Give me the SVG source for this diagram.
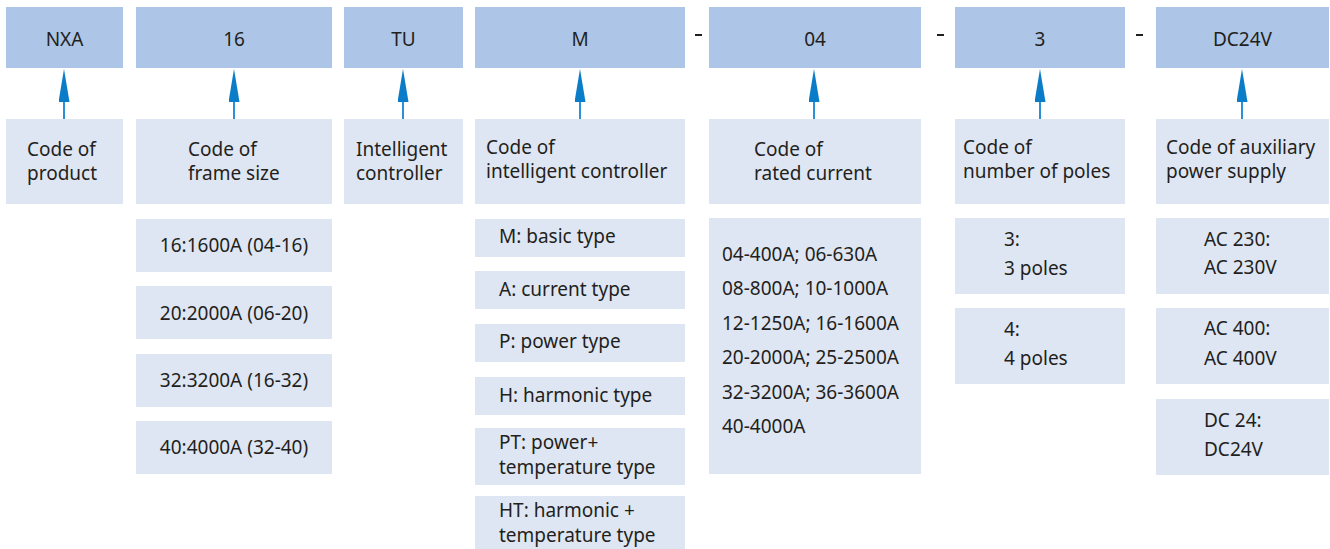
<svg xmlns="http://www.w3.org/2000/svg" width="1330" height="549" viewBox="0 0 1330 549">
<style>
.top{fill:#adc6e7}
.sub{fill:#dfe6f3}
text{font-family:"Noto Sans","Segoe UI","Liberation Sans",sans-serif;font-size:19px;fill:#231f20}
.c{text-anchor:middle}
.conn{stroke:#2a90d8;stroke-width:2;fill:none}
.dash{fill:#231f20}
</style>
<defs>
<marker id="ah" markerUnits="userSpaceOnUse" markerWidth="11" markerHeight="33" viewBox="0 0 11 33" refX="5.5" refY="33" orient="0">
<path d="M0,33 L5.5,0 L11,33 Z" fill="#0a7cc8"/>
</marker>
</defs>
<rect width="1330" height="549" fill="#ffffff"/>

<g id="top-nxa"><rect class="top" x="6" y="7" width="117" height="61"/><text class="c" x="64.5" y="46">NXA</text></g>
<g id="top-16"><rect class="top" x="136" y="7" width="196" height="61"/><text class="c" x="234" y="46">16</text></g>
<g id="top-tu"><rect class="top" x="344" y="7" width="119" height="61"/><text class="c" x="403.5" y="46">TU</text></g>
<g id="top-m"><rect class="top" x="475" y="7" width="210" height="61"/><text class="c" x="580" y="46">M</text></g>
<g id="top-04"><rect class="top" x="709" y="7" width="212" height="61"/><text class="c" x="815" y="46">04</text></g>
<g id="top-3"><rect class="top" x="955" y="7" width="170" height="61"/><text class="c" x="1040" y="46">3</text></g>
<g id="top-dc24v"><rect class="top" x="1156" y="7" width="173" height="61"/><text class="c" x="1242.5" y="46">DC24V</text></g>

<g id="dashes">
<rect class="dash" x="695" y="34" width="7" height="2"/>
<rect class="dash" x="937" y="34" width="7" height="2"/>
<rect class="dash" x="1136" y="34" width="7" height="2"/>
</g>

<g id="connectors">
<line class="conn" x1="64" y1="119" x2="64" y2="102" marker-end="url(#ah)"/>
<line class="conn" x1="234" y1="119" x2="234" y2="102" marker-end="url(#ah)"/>
<line class="conn" x1="403" y1="119" x2="403" y2="102" marker-end="url(#ah)"/>
<line class="conn" x1="580" y1="119" x2="580" y2="102" marker-end="url(#ah)"/>
<line class="conn" x1="814" y1="119" x2="814" y2="102" marker-end="url(#ah)"/>
<line class="conn" x1="1040" y1="119" x2="1040" y2="102" marker-end="url(#ah)"/>
<line class="conn" x1="1242" y1="119" x2="1242" y2="102" marker-end="url(#ah)"/>
</g>

<g id="desc-nxa"><rect class="sub" x="6" y="119" width="117" height="85"/><text x="27" y="156">Code of</text><text x="27" y="180">product</text></g>
<g id="desc-16"><rect class="sub" x="136" y="119" width="196" height="85"/><text x="188" y="156">Code of</text><text x="188" y="180">frame size</text></g>
<g id="desc-tu"><rect class="sub" x="344" y="119" width="119" height="85"/><text x="356" y="156">Intelligent</text><text x="356" y="180">controller</text></g>
<g id="desc-m"><rect class="sub" x="475" y="119" width="210" height="85"/><text x="486" y="154">Code of</text><text x="486" y="178">intelligent controller</text></g>
<g id="desc-04"><rect class="sub" x="709" y="119" width="212" height="85"/><text x="754" y="156">Code of</text><text x="754" y="180">rated current</text></g>
<g id="desc-3"><rect class="sub" x="955" y="119" width="170" height="85"/><text x="963" y="154">Code of</text><text x="963" y="178">number of poles</text></g>
<g id="desc-dc24v"><rect class="sub" x="1156" y="119" width="173" height="85"/><text x="1166" y="154">Code of auxiliary</text><text x="1166" y="178">power supply</text></g>

<g id="frame-16"><rect class="sub" x="136" y="219" width="196" height="53"/><text class="c" x="234" y="252">16:1600A (04-16)</text></g>
<g id="frame-20"><rect class="sub" x="136" y="286" width="196" height="53"/><text class="c" x="234" y="320">20:2000A (06-20)</text></g>
<g id="frame-32"><rect class="sub" x="136" y="354" width="196" height="53"/><text class="c" x="234" y="387">32:3200A (16-32)</text></g>
<g id="frame-40"><rect class="sub" x="136" y="421" width="196" height="53"/><text class="c" x="234" y="454">40:4000A (32-40)</text></g>

<g id="ctrl-m"><rect class="sub" x="475" y="219" width="210" height="38"/><text x="499" y="243">M: basic type</text></g>
<g id="ctrl-a"><rect class="sub" x="475" y="271" width="210" height="38"/><text x="499" y="296">A: current type</text></g>
<g id="ctrl-p"><rect class="sub" x="475" y="324" width="210" height="38"/><text x="499" y="348">P: power type</text></g>
<g id="ctrl-h"><rect class="sub" x="475" y="377" width="210" height="38"/><text x="499" y="402">H: harmonic type</text></g>
<g id="ctrl-pt"><rect class="sub" x="475" y="428" width="210" height="57"/><text x="499" y="449">PT: power+</text><text x="499" y="474">temperature type</text></g>
<g id="ctrl-ht"><rect class="sub" x="475" y="496" width="210" height="53"/><text x="499" y="517">HT: harmonic +</text><text x="499" y="542">temperature type</text></g>

<g id="rated-list"><rect class="sub" x="709" y="218" width="212" height="256"/>
<text x="722" y="261">04-400A; 06-630A</text>
<text x="722" y="295">08-800A; 10-1000A</text>
<text x="722" y="330">12-1250A; 16-1600A</text>
<text x="722" y="364">20-2000A; 25-2500A</text>
<text x="722" y="399">32-3200A; 36-3600A</text>
<text x="722" y="433">40-4000A</text>
</g>

<g id="poles-3"><rect class="sub" x="955" y="218" width="170" height="76"/><text x="1004" y="246">3:</text><text x="1004" y="275">3 poles</text></g>
<g id="poles-4"><rect class="sub" x="955" y="308" width="170" height="76"/><text x="1004" y="336">4:</text><text x="1004" y="365">4 poles</text></g>

<g id="aux-ac230"><rect class="sub" x="1156" y="218" width="173" height="76"/><text x="1204" y="246">AC 230:</text><text x="1204" y="274">AC 230V</text></g>
<g id="aux-ac400"><rect class="sub" x="1156" y="308" width="173" height="76"/><text x="1204" y="335">AC 400:</text><text x="1204" y="365">AC 400V</text></g>
<g id="aux-dc24"><rect class="sub" x="1156" y="399" width="173" height="76"/><text x="1204" y="427">DC 24:</text><text x="1204" y="456">DC24V</text></g>
</svg>
